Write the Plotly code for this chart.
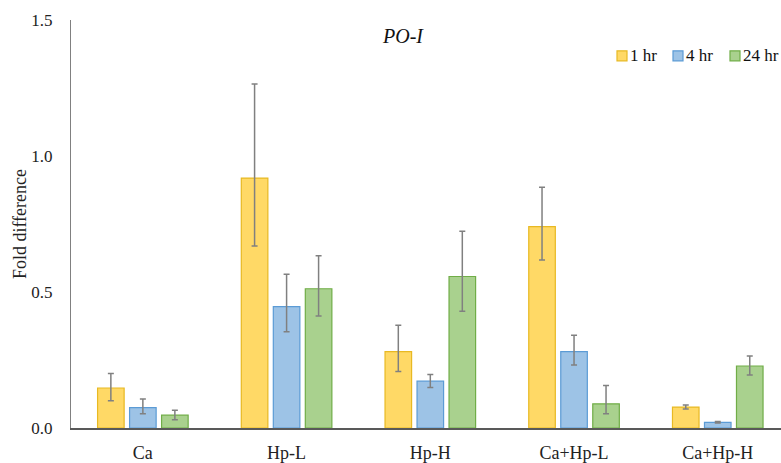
import plotly.graph_objects as go

categories = ["Ca", "Hp-L", "Hp-H", "Ca+Hp-L", "Ca+Hp-H"]
series_names = ["1 hr", "4 hr", "24 hr"]

values_1hr = [0.147, 0.919, 0.281, 0.740, 0.077]
values_4hr = [0.075, 0.446, 0.172, 0.281, 0.021]
values_24hr = [0.047, 0.512, 0.557, 0.089, 0.228]

err_up_1hr = [0.053, 0.346, 0.097, 0.145, 0.008]
err_dn_1hr = [0.047, 0.250, 0.073, 0.122, 0.007]
err_up_4hr = [0.032, 0.119, 0.025, 0.060, 0.003]
err_dn_4hr = [0.023, 0.092, 0.023, 0.049, 0.003]
err_up_24hr = [0.018, 0.121, 0.166, 0.067, 0.037]
err_dn_24hr = [0.017, 0.100, 0.128, 0.037, 0.033]

fills = ["#FFD966", "#9DC3E6", "#A9D18E"]
edges = ["#E8B923", "#5B9BD5", "#70AD47"]

serif = "Liberation Serif, Times New Roman, serif"
W, H = 781, 463
ML, MR, MT, MB = 71, 0, 20, 33
PW, PH = W - ML - MR, H - MT - MB


def px_x(x):
    # pixel column -> plot-area fraction
    return (x - ML) / PW


def px_y(y):
    # pixel row -> plot-area fraction
    return (H - MB - y) / PH


fig = go.Figure()
for name, vals, up, dn, fc, ec in zip(
    series_names,
    [values_1hr, values_4hr, values_24hr],
    [err_up_1hr, err_up_4hr, err_up_24hr],
    [err_dn_1hr, err_dn_4hr, err_dn_24hr],
    fills, edges,
):
    fig.add_trace(go.Bar(
        name=name, x=categories, y=vals,
        marker=dict(color=fc, line=dict(color=ec, width=1.2)),
        error_y=dict(type="data", symmetric=False, array=up, arrayminus=dn,
                     color="#808080", thickness=1.5, width=3),
        showlegend=False,
    ))

# Legend drawn as small bordered squares with labels in the top-right corner
legend_x = [617, 673, 730]
shapes, annotations = [], []
for name, fc, ec, lx in zip(series_names, fills, edges, legend_x):
    shapes.append(dict(type="rect", xref="paper", yref="paper",
                       x0=px_x(lx), x1=px_x(lx + 10),
                       y0=px_y(61), y1=px_y(51),
                       fillcolor=fc, line=dict(color=ec, width=1.2)))
    annotations.append(dict(text=name, xref="paper", yref="paper",
                            x=px_x(lx + 11), y=px_y(56),
                            xanchor="left", yanchor="middle", showarrow=False,
                            font=dict(family=serif, size=17, color="#111111")))

annotations.append(dict(text="<i>PO-I</i>", xref="paper", yref="paper",
                        x=px_x(403), y=px_y(36), xanchor="center", yanchor="middle",
                        showarrow=False,
                        font=dict(family=serif, size=20, color="#111111")))

fig.update_layout(
    width=W, height=H,
    margin=dict(l=ML, r=MR, t=MT, b=MB),
    paper_bgcolor="white", plot_bgcolor="white",
    barmode="group", bargap=0.332, bargroupgap=0.17,
    font=dict(family=serif, size=17, color="#222222"),
    shapes=shapes, annotations=annotations,
)

fig.update_xaxes(range=[-0.5, 4.44], showline=True, linecolor="#595959", linewidth=1.5,
                 ticks="", showgrid=False, ticklabelstandoff=8,
                 tickfont=dict(family=serif, size=18, color="#222222"))
fig.update_yaxes(range=[0, 1.5], tickvals=[0, 0.5, 1.0, 1.5],
                 ticktext=["0.0", "0.5", "1.0", "1.5"],
                 showline=True, linecolor="#808080", linewidth=1,
                 ticks="", showgrid=False, zeroline=False, ticklabelstandoff=14,
                 tickfont=dict(family=serif, size=17, color="#222222"),
                 title=dict(text="Fold difference",
                            font=dict(family=serif, size=18, color="#222222"),
                            standoff=0))

fig.write_html("out.html")
